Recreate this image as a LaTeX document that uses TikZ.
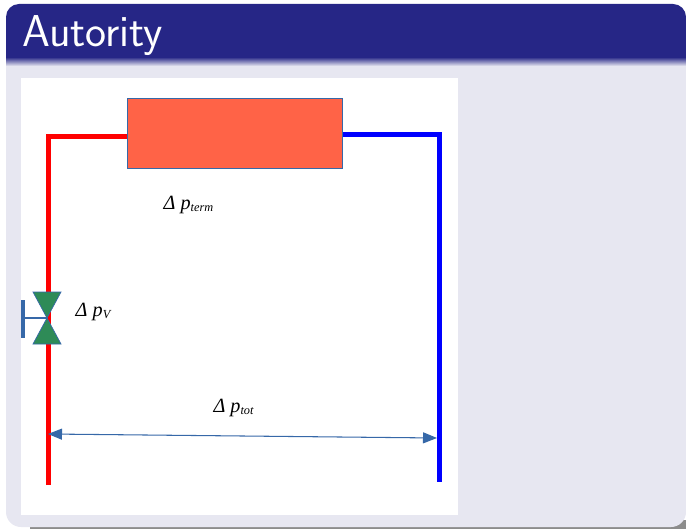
\documentclass[tikz,border=0pt]{standalone}
\usepackage{fontspec}
\newfontfamily\labelfont{Liberation Serif}
\usetikzlibrary{arrows.meta,positioning,calc}
\definecolor{titleblue}{RGB}{38,38,134}
\definecolor{slidebg}{RGB}{231,231,241}
\definecolor{termfill}{RGB}{255,99,71}
\definecolor{valvefill}{RGB}{46,139,87}
\definecolor{linkblue}{RGB}{54,104,168}
\newcommand{\dplow}[1]{\raisebox{-0.3ex}{\fontsize{7}{8}\selectfont #1}}
\tikzset{
  pipe/.style={line width=0.1cm,line join=miter},
  valvepart/.style={fill=valvefill,draw=linkblue,line width=0.4pt},
  dplabel/.style={font=\labelfont\itshape\fontsize{11.5}{13}\selectfont,inner sep=0pt}
}
\begin{document}
\begin{tikzpicture}[x=0.02cm,y=-0.02cm]
      \useasboundingbox (0,0) rectangle (686,530);
      % slide
      \fill[gray!90] (30,520) rectangle (686,529);
      \fill[slidebg,rounded corners=0.3cm] (6,20) rectangle (686,527);
      \shade[top color=titleblue,bottom color=slidebg] (6,57) rectangle (686,66);
      \fill[titleblue,rounded corners=0.26cm] (6,58) -- (6,4) -- (686,4) -- (686,58) -- cycle;
      \fill[titleblue] (6,40) rectangle (686,58);
      \node[anchor=base west,text=white,inner sep=0pt,font=\sffamily\fontsize{25.4}{27}\selectfont] (title) at (22,47) {Autority};
      \fill[white] (21,78) rectangle (458,515);
      %
      \node[draw=linkblue,fill=termfill,line width=0.5pt,minimum width=4.3cm,minimum height=1.4cm,inner sep=0pt] (term) at (235,133.5) {};
      \coordinate (redend) at (48,485);
      \coordinate (redturn) at (48,137);
      \coordinate (blueturn) at (439,135);
      \coordinate (blueend) at (439,482);
      \draw[pipe,red] (redend) -- (redturn) -- (term.west |- redturn);
      \draw[pipe,blue] (term.east |- blueturn) -- (blueturn) -- (blueend);
      %
      \coordinate (valve) at (47,318);
      \coordinate (handle) at (23,318);
      \fill[valvepart] (valve) -- (33,292) -- (61,292) -- cycle;
      \fill[valvepart] (valve) -- (33,344) -- (61,344) -- cycle;
      \draw[linkblue,line width=0.05cm] (handle) -- (valve);
      \draw[linkblue,line width=0.07cm] (23,300) -- (23,338);
      %
      \node[dplabel] (dpterm) at (188.5,204.5) {Δ p\dplow{term}};
      \node[dplabel] (dpv) at (93,311.5) {Δ p\dplow{V}};
      \node[dplabel] (dptot) at (233.5,407.5) {Δ p\dplow{tot}};
      %
      \coordinate (tota) at (48,434);
      \coordinate (totb) at (437,438);
      \draw[linkblue,line width=0.6pt,{Triangle[length=0.28cm,width=0.22cm]}-{Triangle[length=0.28cm,width=0.22cm]}] (tota) -- (totb);
\end{tikzpicture}
\end{document}
